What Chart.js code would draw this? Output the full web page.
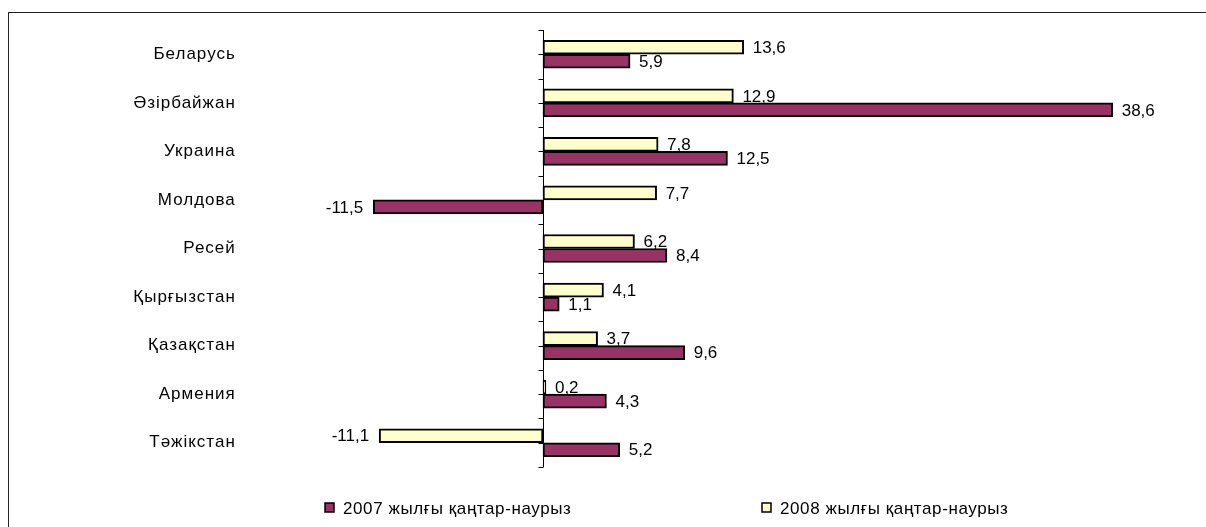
<!DOCTYPE html>
<html>
<head>
<meta charset="utf-8">
<script src="https://cdn.jsdelivr.net/npm/chart.js@4/dist/chart.umd.min.js"></script>
<style>
  html, body { margin: 0; padding: 0; overflow: hidden; background: #fff; }
  #frame { position: absolute; left: 8px; top: 12px; width: 1198px; height: 515px; border-left: 1px solid #222; border-top: 1px solid #222; box-sizing: border-box; }
  #wrap { position: absolute; left: 0; top: 0; width: 1206px; height: 527px; }
</style>
</head>
<body>
<div id="frame"></div>
<div id="wrap"><canvas id="chart"></canvas></div>
<script>
const countries = ['Беларусь', 'Әзірбайжан', 'Украина', 'Молдова', 'Ресей', 'Қырғызстан', 'Қазақстан', 'Армения', 'Тәжікстан'];
const values2008 = [13.6, 12.9, 7.8, 7.7, 6.2, 4.1, 3.7, 0.2, -11.1];
const values2007 = [5.9, 38.6, 12.5, -11.5, 8.4, 1.1, 9.6, 4.3, 5.2];
const label2007 = '2007 жылғы қаңтар-наурыз';
const label2008 = '2008 жылғы қаңтар-наурыз';

const FONT = '"Liberation Sans", Arial, sans-serif';

// category labels in the picture are drawn a bit wider
const spacing = {
  id: 'spacing',
  beforeDraw(chart) { chart.ctx.letterSpacing = '1px'; },
  beforeDatasetsDraw(chart) { chart.ctx.letterSpacing = '0px'; }
};

// axis line, tick marks, value labels and the legend
const extras = {
  id: 'extras',
  afterDatasetsDraw(chart) {
    const ctx = chart.ctx;
    const x0 = Math.round(chart.scales.x.getPixelForValue(0)) + 0.5;
    const top = chart.chartArea.top;
    const bottom = chart.chartArea.bottom;
    ctx.save();
    ctx.strokeStyle = '#000';
    ctx.lineWidth = 1;
    ctx.beginPath();
    ctx.moveTo(x0, top);
    ctx.lineTo(x0, bottom);
    const step = (bottom - top) / countries.length / 2;
    for (let i = 0; i <= countries.length * 2; i++) {
      const ty = Math.round(top + i * step) + 0.5;
      ctx.moveTo(x0 - 5, ty);
      ctx.lineTo(x0, ty);
    }
    ctx.stroke();

    ctx.font = '17px ' + FONT;
    ctx.fillStyle = '#000';
    ctx.textBaseline = 'middle';
    chart.data.datasets.forEach((ds, di) => {
      chart.getDatasetMeta(di).data.forEach((bar, i) => {
        const v = ds.data[i];
        const txt = v.toFixed(1).replace('.', ',');
        if (v >= 0) {
          ctx.textAlign = 'left';
          ctx.fillText(txt, bar.x + 9, bar.y + 1);
        } else {
          ctx.textAlign = 'right';
          ctx.fillText(txt, bar.x - 10, bar.y + 1);
        }
      });
    });

    // legend: 2007 first, then 2008
    const legendX = [325, 762];
    const legendY = 508;
    const order = [1, 0];
    ctx.letterSpacing = '0.6px';
    order.forEach((di, k) => {
      const ds = chart.data.datasets[di];
      ctx.fillStyle = ds.backgroundColor;
      ctx.fillRect(legendX[k], legendY - 5, 9, 9);
      ctx.strokeStyle = '#000';
      ctx.lineWidth = 1.5;
      ctx.strokeRect(legendX[k], legendY - 5, 9, 9);
      ctx.fillStyle = '#000';
      ctx.textAlign = 'left';
      ctx.fillText(ds.label, legendX[k] + 18, legendY + 1);
    });
    ctx.restore();
  }
};

new Chart(document.getElementById('chart'), {
  type: 'bar',
  data: {
    labels: countries,
    datasets: [
      {
        label: label2008,
        data: values2008,
        backgroundColor: '#FFFFCC',
        borderColor: '#000',
        borderWidth: 2,
        borderSkipped: false,
        barThickness: 14
      },
      {
        label: label2007,
        data: values2007,
        backgroundColor: '#993366',
        borderColor: '#000',
        borderWidth: 2,
        borderSkipped: false,
        barThickness: 14
      }
    ]
  },
  options: {
    indexAxis: 'y',
    responsive: true,
    maintainAspectRatio: false,
    animation: false,
    layout: { padding: { top: 30, bottom: 60, left: 0, right: 13.6 } },
    plugins: {
      legend: { display: false },
      tooltip: { enabled: false }
    },
    scales: {
      x: { display: false, min: -20, max: 44 },
      y: {
        grid: { display: false, drawTicks: false },
        border: { display: false },
        ticks: { color: '#000', padding: 12, font: { family: FONT, size: 17 } },
        afterFit(scale) { scale.width = 247.8; }
      }
    }
  },
  plugins: [spacing, extras]
});
</script>
</body>
</html>
